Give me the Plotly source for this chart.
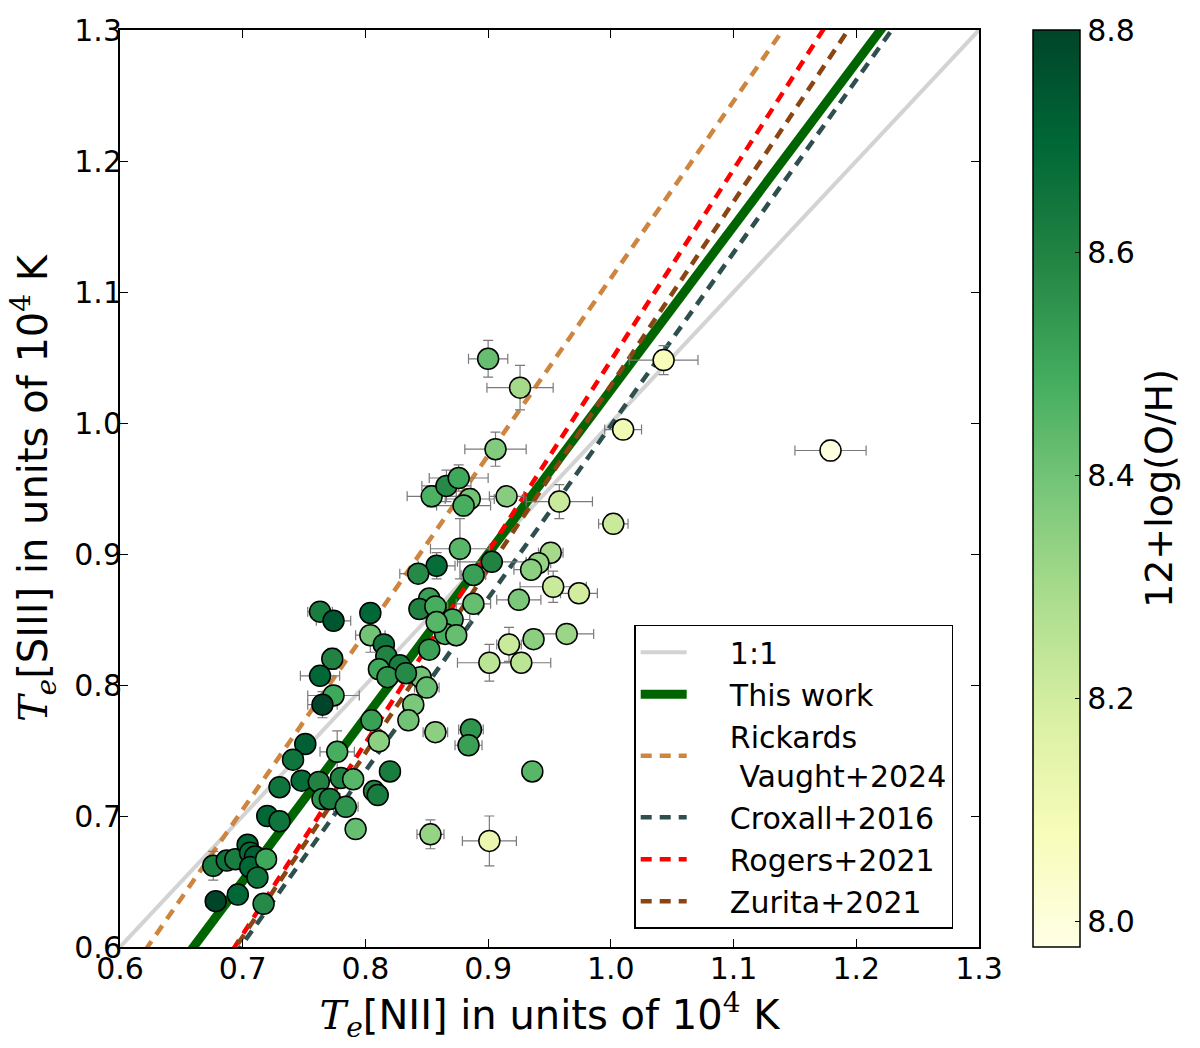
import numpy as np
import plotly.graph_objects as go

# ---- data ----
te_nii = [0.900, 0.926, 1.043, 1.010, 1.179, 0.906, 1.002, 0.958, 0.915,
          0.854, 0.866, 0.876, 0.885, 0.880, 0.877, 0.858, 0.843, 0.888, 0.903,
          0.951, 0.941, 0.935, 0.953, 0.974, 0.925, 0.888,
          0.852, 0.844, 0.857, 0.871, 0.865, 0.874, 0.858, 0.852, 0.845, 0.850,
          0.839, 0.835, 0.857, 0.886, 0.884, 0.936, 0.853, 0.901,
          0.964, 0.937, 0.917, 0.901, 0.927,
          0.763, 0.774, 0.804, 0.804, 0.815, 0.817, 0.828, 0.811, 0.818, 0.833,
          0.773, 0.763, 0.774, 0.765, 0.805, 0.811, 0.777, 0.751, 0.741, 0.748,
          0.730, 0.762, 0.780, 0.790, 0.765, 0.771, 0.784, 0.807, 0.810, 0.820,
          0.792, 0.720, 0.730,
          0.676, 0.687, 0.694, 0.704, 0.706, 0.710, 0.706, 0.719, 0.712, 0.678,
          0.696, 0.717]
te_siii = [1.049, 1.027, 1.048, 0.995, 0.979, 0.980, 0.923, 0.940, 0.944,
           0.944, 0.952, 0.958, 0.942, 0.937, 0.904, 0.891, 0.885, 0.884, 0.894,
           0.901, 0.893, 0.888, 0.875, 0.870, 0.865, 0.862,
           0.866, 0.858, 0.860, 0.850, 0.839, 0.838, 0.848, 0.827, 0.806, 0.798,
           0.785, 0.773, 0.764, 0.766, 0.754, 0.734, 0.686, 0.681,
           0.839, 0.835, 0.831, 0.817, 0.817,
           0.856, 0.849, 0.855, 0.838, 0.831, 0.822, 0.815, 0.812, 0.806, 0.809,
           0.820, 0.807, 0.792, 0.785, 0.773, 0.757, 0.749, 0.755, 0.743, 0.727,
           0.722, 0.726, 0.729, 0.728, 0.713, 0.713, 0.707, 0.719, 0.716, 0.734,
           0.690, 0.700, 0.696,
           0.662, 0.666, 0.667, 0.678, 0.672, 0.669, 0.661, 0.667, 0.653, 0.635,
           0.640, 0.633]
err_nii = [0.016, 0.027, 0.028, 0.015, 0.029, 0.025, 0.012, 0.027, 0.014,
           0.020, 0.020, 0.024, 0.020, 0.022, 0.024, 0.015, 0.015, 0.010, 0.028,
           0.010, 0.010, 0.014, 0.027, 0.015, 0.018, 0.014,
           0.008, 0.008, 0.010, 0.014, 0.008, 0.008, 0.008, 0.008, 0.008, 0.010,
           0.008, 0.008, 0.010, 0.010, 0.011, 0.008, 0.011, 0.022,
           0.022, 0.008, 0.010, 0.026, 0.024,
           0.010, 0.014, 0.008, 0.012, 0.008, 0.008, 0.008, 0.008, 0.008, 0.008,
           0.008, 0.016, 0.021, 0.012, 0.008, 0.008, 0.014, 0.008, 0.008, 0.008,
           0.008, 0.008, 0.008, 0.008, 0.008, 0.008, 0.010, 0.008, 0.008, 0.008,
           0.008, 0.008, 0.008,
           0.008, 0.008, 0.008, 0.008, 0.008, 0.008, 0.008, 0.008, 0.008, 0.008,
           0.008, 0.008]
err_siii = [0.014, 0.017, 0.011, 0.006, 0.008, 0.013, 0.004, 0.013, 0.004,
            0.008, 0.012, 0.010, 0.008, 0.008, 0.023, 0.010, 0.006, 0.005, 0.004,
            0.006, 0.005, 0.005, 0.012, 0.006, 0.004, 0.004,
            0.004, 0.004, 0.004, 0.004, 0.004, 0.004, 0.004, 0.006, 0.004, 0.004,
            0.004, 0.004, 0.004, 0.004, 0.004, 0.004, 0.011, 0.019,
            0.004, 0.004, 0.013, 0.014, 0.004,
            0.004, 0.004, 0.004, 0.013, 0.004, 0.004, 0.004, 0.004, 0.004, 0.004,
            0.008, 0.004, 0.004, 0.010, 0.004, 0.004, 0.016, 0.004, 0.004, 0.006,
            0.004, 0.004, 0.004, 0.004, 0.004, 0.004, 0.004, 0.004, 0.004, 0.004,
            0.004, 0.004, 0.004,
            0.011, 0.004, 0.004, 0.004, 0.004, 0.004, 0.004, 0.006, 0.004, 0.004,
            0.004, 0.004]
oh_abund = [8.42, 8.30, 8.08, 8.10, 7.99, 8.37, 8.22, 8.22, 8.36,
            8.47, 8.58, 8.50, 8.40, 8.48, 8.45, 8.68, 8.58, 8.52, 8.60,
            8.30, 8.33, 8.35, 8.22, 8.20, 8.38, 8.42,
            8.52, 8.60, 8.48, 8.48, 8.48, 8.42, 8.45, 8.52, 8.40, 8.42,
            8.38, 8.40, 8.35, 8.55, 8.52, 8.45, 8.33, 8.12,
            8.32, 8.35, 8.22, 8.25, 8.25,
            8.62, 8.75, 8.70, 8.40, 8.65, 8.60, 8.62, 8.50, 8.55, 8.58,
            8.60, 8.70, 8.50, 8.80, 8.52, 8.35, 8.48, 8.72, 8.65, 8.68,
            8.65, 8.60, 8.60, 8.45, 8.55, 8.62, 8.55, 8.60, 8.62, 8.62,
            8.42, 8.70, 8.65,
            8.62, 8.65, 8.62, 8.70, 8.68, 8.72, 8.70, 8.50, 8.65, 8.80,
            8.70, 8.58]

# relations: T[SIII] = slope * T[NII] + intercept
rel_names = ["1:1", "This work", "Rickards<br>\u00a0Vaught+2024",
             "Croxall+2016", "Rogers+2021", "Zurita+2021"]
rel_slopes = [1.0, 1.25, 1.352, 1.319, 1.46, 1.403]
rel_intercepts = [0.0, -0.2248, -0.2415, -0.3209, -0.4124, -0.3743]
rel_colors = ["#d3d3d3", "#006400", "#cd853f", "#2f4f4f", "#ff0000", "#8b4513"]
rel_widths = [4, 9, 4.5, 4.5, 4.5, 4.5]
rel_dash = ["solid", "solid", "11px,8px", "11px,8px", "11px,8px", "11px,8px"]

x_ticks = [0.6, 0.7, 0.8, 0.9, 1.0, 1.1, 1.2, 1.3]
y_ticks = [0.6, 0.7, 0.8, 0.9, 1.0, 1.1, 1.2, 1.3]
cbar_ticks = [8.0, 8.2, 8.4, 8.6, 8.8]
oh_range = [7.977, 8.80]

ylgn = ["#ffffe5", "#f7fcb9", "#d9f0a3", "#addd8e", "#78c679",
        "#41ab5d", "#238443", "#006837", "#004529"]
colorscale = [[i / (len(ylgn) - 1), c] for i, c in enumerate(ylgn)]

FONT = "DejaVu Sans"
SERIF = "DejaVu Serif"
PAD = "\u00a0" * 4

fig = go.Figure()

xline = np.array([0.55, 1.35])
for name, a, b, col, w, d in zip(rel_names, rel_slopes, rel_intercepts,
                                 rel_colors, rel_widths, rel_dash):
    label = PAD + name.replace("<br>", "<br>" + PAD)
    fig.add_trace(go.Scatter(
        x=xline, y=a * xline + b, mode="lines", name=label,
        line=dict(color=col, width=w, dash=d), hoverinfo="skip"))

fig.add_trace(go.Scatter(
    x=te_nii, y=te_siii, mode="markers", showlegend=False,
    error_x=dict(type="data", array=err_nii, color="#7a7a7a", thickness=1.2, width=5),
    error_y=dict(type="data", array=err_siii, color="#7a7a7a", thickness=1.2, width=5),
    marker=dict(size=21, color=oh_abund, colorscale=colorscale,
                cmin=oh_range[0], cmax=oh_range[1],
                line=dict(color="black", width=1.5),
                colorbar=dict(
                    x=1.0628, xanchor="left", xpad=0, ypad=0,
                    y=0.5, yanchor="middle", len=1, lenmode="fraction",
                    thickness=47, thicknessmode="pixels",
                    outlinecolor="black", outlinewidth=1.5,
                    tickvals=cbar_ticks, ticktext=[f"{v:.1f}" for v in cbar_ticks],
                    ticks="inside", ticklen=5, tickwidth=1, tickcolor="black",
                    tickfont=dict(family=FONT, size=30, color="black"),
                    title=dict(text="12+log(O/H)", side="right",
                               font=dict(family=FONT, size=38, color="black")))),
    hoverinfo="skip"))

axis_common = dict(
    showgrid=False, zeroline=False, showline=True, linecolor="black",
    linewidth=2, mirror="ticks", ticks="inside", ticklen=8, tickwidth=1.2,
    tickcolor="black", tickfont=dict(family=FONT, size=30, color="black"),
    tickformat=".1f")

te = f"<span style=\"font-family:'{SERIF}'\"><i>T</i><sub><i>e</i></sub></span>"
four = f"<sup><span style=\"font-family:'{SERIF}'\">4</span></sup>"

fig.update_layout(
    width=1200, height=1048,
    margin=dict(l=120, r=221, t=22, b=101),
    plot_bgcolor="white", paper_bgcolor="white",
    font=dict(family=FONT, size=30, color="black"),
    xaxis=dict(range=[0.6, 1.3], tickvals=x_ticks, ticklabelstandoff=-6, **axis_common,
               title=dict(text=f"{te}[NII] in units of 10{four} K",
                          font=dict(family=FONT, size=40), standoff=0)),
    yaxis=dict(range=[0.6, 1.3], tickvals=y_ticks, ticklabelstandoff=-10, **axis_common,
               title=dict(text=f"{te}[SIII] in units of 10{four} K",
                          font=dict(family=FONT, size=40), standoff=14)),
    legend=dict(x=0.5986, y=0.3515, xanchor="left", yanchor="top",
                bgcolor="white", bordercolor="black", borderwidth=1.5,
                font=dict(family=FONT, size=30, color="black"),
                itemwidth=46, traceorder="normal"),
)

fig.write_html("out.html", config={"displayModeBar": False},
               post_script="document.body.style.margin='0px';")
